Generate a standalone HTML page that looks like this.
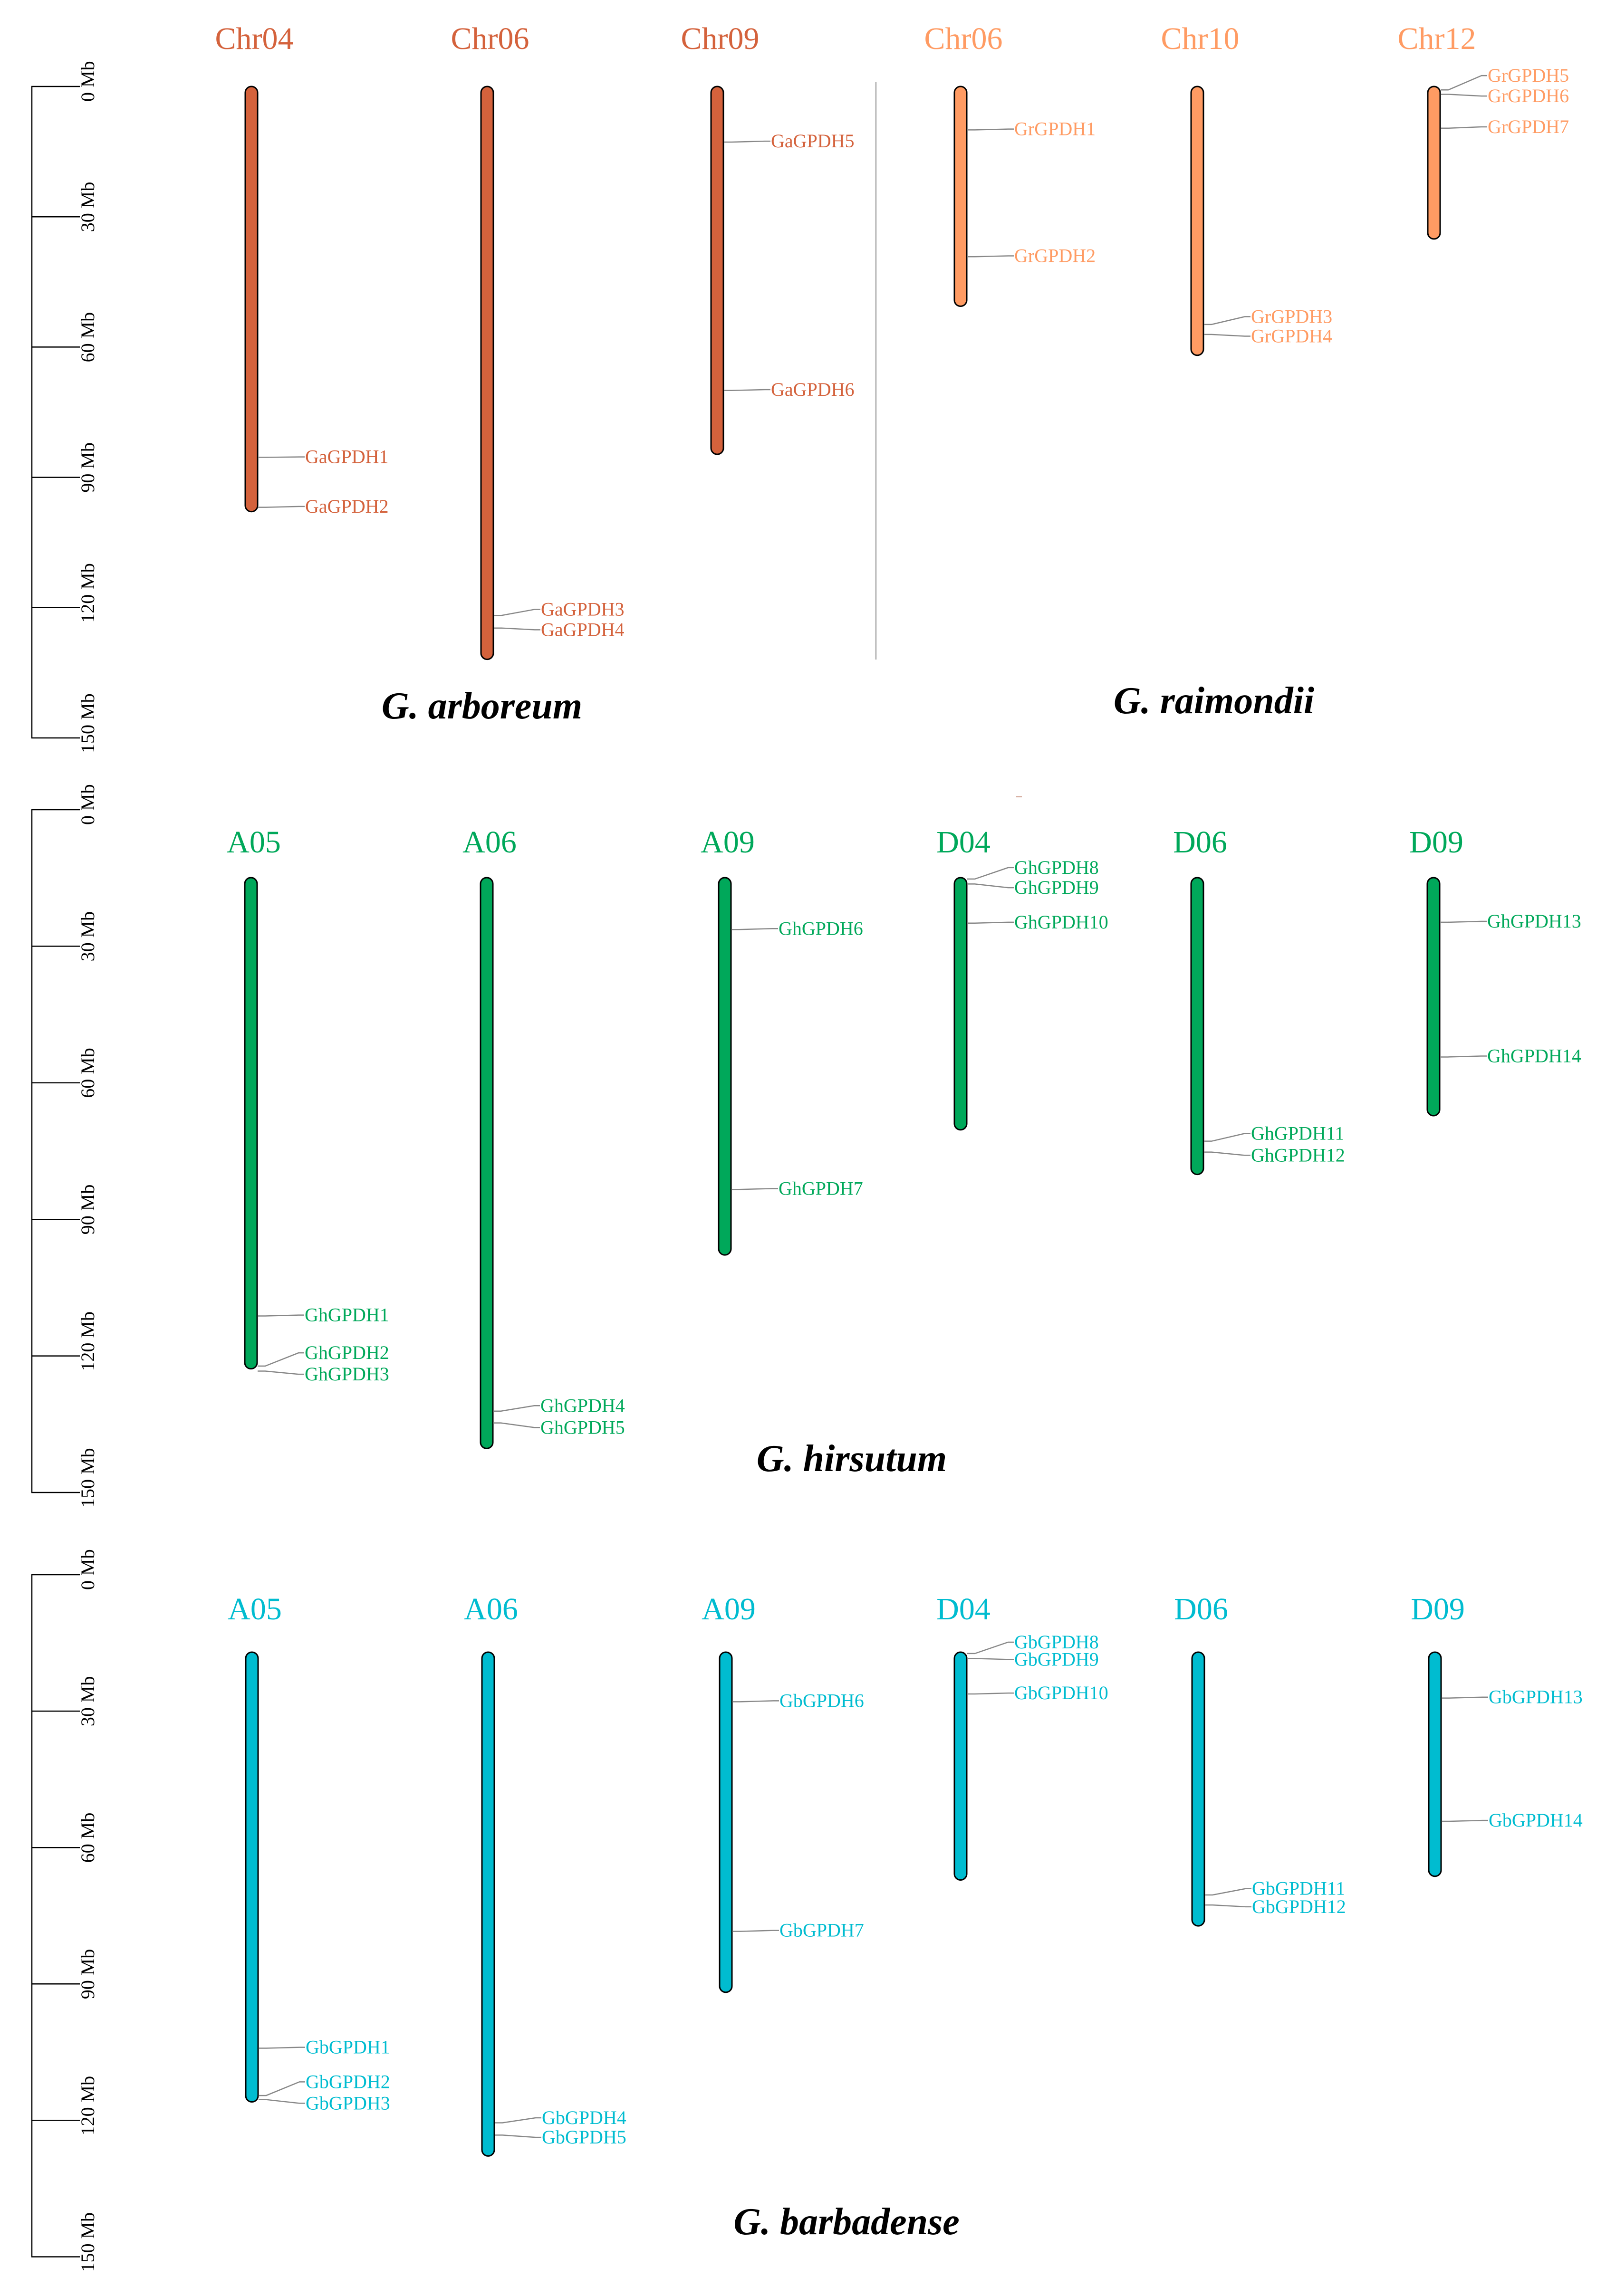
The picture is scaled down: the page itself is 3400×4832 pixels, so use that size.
<!DOCTYPE html>
<html><head><meta charset="utf-8">
<style>
html,body{margin:0;padding:0;background:#fff;}
svg{display:block;font-family:"Liberation Serif","Times New Roman",serif;}
</style></head>
<body>
<svg id="fig" width="3400" height="4832" viewBox="0 0 3400 4832" xmlns="http://www.w3.org/2000/svg">
<rect width="3400" height="4832" fill="#fff"/>
<line x1="1843" y1="173" x2="1843" y2="1388" stroke="#888" stroke-width="2"/>
<line x1="2138" y1="1677" x2="2150" y2="1677" stroke="#c98" stroke-width="2"/>
</svg>
<script>
// ---- data ----
const axisTicks = [0, 30, 60, 90, 120, 150];
const axisTickLabels = ["0 Mb", "30 Mb", "60 Mb", "90 Mb", "120 Mb", "150 Mb"];

const gaChroms = ["Chr04", "Chr06", "Chr09"];
const gaChromLen = [97.9, 131.9, 84.7];
const gaGenes = ["GaGPDH1", "GaGPDH2", "GaGPDH3", "GaGPDH4", "GaGPDH5", "GaGPDH6"];
const gaGeneChrom = [0, 0, 1, 1, 2, 2];
const gaGeneMb = [85.4, 96.9, 121.8, 124.7, 12.8, 70.0];
const gaLabelMb = [85.3, 96.7, 120.4, 125.1, 12.6, 69.8];

const grChroms = ["Chr06", "Chr10", "Chr12"];
const grChromLen = [50.6, 61.9, 35.1];
const grGenes = ["GrGPDH1", "GrGPDH2", "GrGPDH3", "GrGPDH4", "GrGPDH5", "GrGPDH6", "GrGPDH7"];
const grGeneChrom = [0, 0, 1, 1, 2, 2, 2];
const grGeneMb = [10.0, 39.2, 54.8, 57.1, 0.8, 1.8, 9.6];
const grLabelMb = [9.8, 39.0, 53.0, 57.5, -2.5, 2.2, 9.3];

const ghChroms = ["A05", "A06", "A09", "D04", "D06", "D09"];
const ghChromLen = [107.9, 125.4, 82.9, 55.4, 65.2, 52.3];
const ghGenes = ["GhGPDH1","GhGPDH2","GhGPDH3","GhGPDH4","GhGPDH5","GhGPDH6","GhGPDH7","GhGPDH8","GhGPDH9","GhGPDH10","GhGPDH11","GhGPDH12","GhGPDH13","GhGPDH14"];
const ghGeneChrom = [0,0,0,1,1,2,2,3,3,3,4,4,5,5];
const ghGeneMb = [96.3,107.3,108.4,117.2,119.8,11.4,68.5,0.3,1.4,10.0,57.9,60.3,9.8,39.4];
const ghLabelMb = [96.1,104.4,109.1,116.0,120.8,11.2,68.3,-2.2,2.2,9.8,56.2,61.0,9.6,39.2];

const gbChroms = ["A05", "A06", "A09", "D04", "D06", "D09"];
const gbChromLen = [98.9, 110.8, 74.8, 50.1, 60.2, 49.3];
const gbGenes = ["GbGPDH1","GbGPDH2","GbGPDH3","GbGPDH4","GbGPDH5","GbGPDH6","GbGPDH7","GbGPDH8","GbGPDH9","GbGPDH10","GbGPDH11","GbGPDH12","GbGPDH13","GbGPDH14"];
const gbGeneChrom = [0,0,0,1,1,2,2,3,3,3,4,4,5,5];
const gbGeneMb = [87.1,97.5,98.4,103.5,106.2,10.9,61.4,0.3,1.4,9.2,53.4,55.6,10.1,37.2];
const gbLabelMb = [86.9,94.5,99.2,102.4,106.7,10.7,61.2,-2.2,1.6,9.0,52.0,56.0,9.9,37.0];

// ---- drawing ----
const NS = "http://www.w3.org/2000/svg";
const svg = document.getElementById("fig");
function mk(tag, attrs, parent) {
  const e = document.createElementNS(NS, tag);
  for (const k in attrs) e.setAttribute(k, attrs[k]);
  (parent || svg).appendChild(e);
  return e;
}

function drawAxis(y0, ppm, id) {
  const g = mk("g", {});
  
  
  const ax = mk("line", {x1: 67, y1: y0, x2: 67, y2: y0 + 150 * ppm, stroke: "#000", "stroke-width": 2.5}, g);
  
  
  axisTicks.forEach((t, i) => {
    const y = y0 + t * ppm;
    const tk = mk("line", {x1: 66, y1: y, x2: 168, y2: y, stroke: "#000", "stroke-width": 2.5}, g);
    
    
    const tx = mk("text", {x: 0, y: 0, transform: `translate(198,${y + 32}) rotate(-90)`, "font-size": 40, fill: "#000"}, g);
    tx.textContent = axisTickLabels[i];
    
    
  });
}

function drawPanel(cfg) {
  const g = mk("g", {});
  
  
  const yOf = mb => cfg.top + mb * cfg.ppm;
  cfg.chroms.forEach((name, i) => {
    const x = cfg.xs[i];
    const t = mk("text", {x: x + 6, y: cfg.titleY, "text-anchor": "middle", "font-size": 66, fill: cfg.color}, g);
    t.textContent = name;
    
    
    const r = mk("rect", {x: x - 13, y: cfg.top, width: 26, height: cfg.lens[i] * cfg.ppm, rx: 13, ry: 13, fill: cfg.color, stroke: "#000", "stroke-width": 3}, g);
    
    
  });
  cfg.genes.forEach((name, i) => {
    const x = cfg.xs[cfg.geneChrom[i]];
    const y1 = yOf(cfg.geneMb[i]);
    const y2 = yOf(cfg.labelMb[i]);
    const p = mk("polyline", {points: `${x + 14},${y1} ${x + 30},${y1} ${x + 100},${y2} ${x + 112},${y2}`, fill: "none", stroke: "#888", "stroke-width": 2.5}, g);
    
    
    const t = mk("text", {x: x + 113, y: y2 + 13, "font-size": 40, fill: cfg.color}, g);
    t.textContent = name;
    
    
  });
  const s = mk("text", {x: cfg.spX, y: cfg.spY, "text-anchor": "middle", "font-size": 80, "font-weight": "bold", "font-style": "italic", fill: "#000"}, g);
  s.textContent = cfg.species;
  
  
}

drawAxis(182, 9.14, 'arboreum');
drawAxis(1704, 9.58, 'hirsutum');
drawAxis(3314, 9.57, 'barbadense');

drawPanel({id: 'g-arboreum', chroms: gaChroms, lens: gaChromLen, genes: gaGenes, geneChrom: gaGeneChrom, geneMb: gaGeneMb, labelMb: gaLabelMb,
  xs: [529, 1025, 1509], top: 182, ppm: 9.14, titleY: 103, color: "#D4623C", species: "G. arboreum", spX: 1014, spY: 1512});
drawPanel({id: 'g-raimondii', chroms: grChroms, lens: grChromLen, genes: grGenes, geneChrom: grGeneChrom, geneMb: grGeneMb, labelMb: grLabelMb,
  xs: [2021, 2519, 3017], top: 182, ppm: 9.14, titleY: 103, color: "#FF9B63", species: "G. raimondii", spX: 2554, spY: 1501});
drawPanel({id: 'g-hirsutum', chroms: ghChroms, lens: ghChromLen, genes: ghGenes, geneChrom: ghGeneChrom, geneMb: ghGeneMb, labelMb: ghLabelMb,
  xs: [528, 1024, 1525, 2021, 2519, 3016], top: 1847, ppm: 9.58, titleY: 1794, color: "#00A85A", species: "G. hirsutum", spX: 1792, spY: 3096});
drawPanel({id: 'g-barbadense', chroms: gbChroms, lens: gbChromLen, genes: gbGenes, geneChrom: gbGeneChrom, geneMb: gbGeneMb, labelMb: gbLabelMb,
  xs: [530, 1027, 1527, 2021, 2521, 3019], top: 3477, ppm: 9.57, titleY: 3408, color: "#00BCD0", species: "G. barbadense", spX: 1781, spY: 4702});
</script>
</body></html>
